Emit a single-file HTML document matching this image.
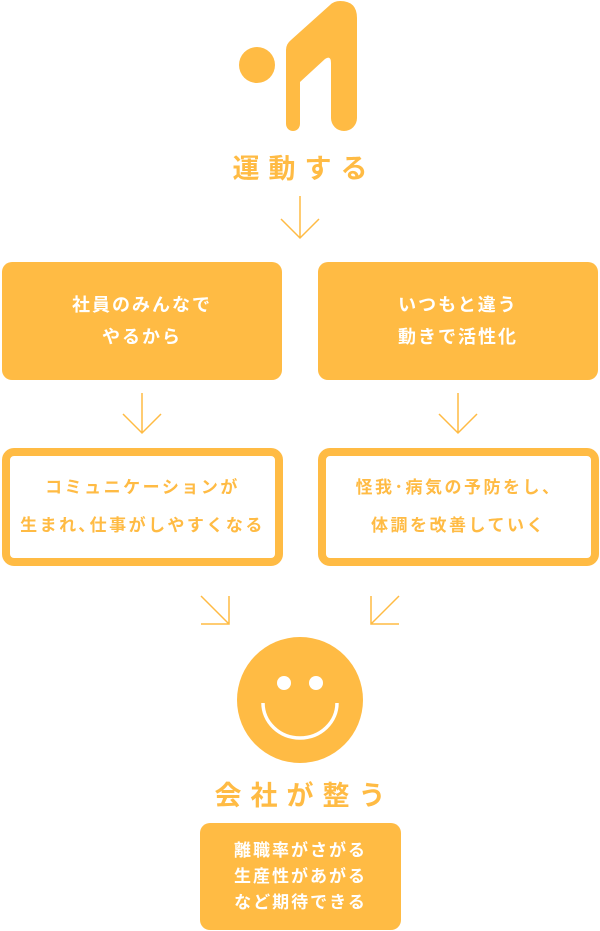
<!DOCTYPE html>
<html><head><meta charset="utf-8"><style>
body{margin:0;width:600px;height:931px;background:#fff;position:relative;overflow:hidden;font-family:"Liberation Sans","Noto Sans CJK JP",sans-serif;font-weight:bold;color:#FFBB44}
.a{position:absolute}
.box{position:absolute;background:#FFBB44;border-radius:10px;color:#fff;font-size:18px;letter-spacing:2px;text-align:center;line-height:32px;display:flex;align-items:center;justify-content:center}
.ob{position:absolute;border:8px solid #FFBB44;border-radius:12px;box-sizing:border-box;color:#FFBB44;font-size:17px;letter-spacing:2.5px;text-align:center;line-height:38px;display:flex;align-items:center;justify-content:center}
.t{position:absolute;width:600px;text-align:center;font-size:27px;letter-spacing:9px;text-indent:9px}
</style></head><body>
<svg class="a" style="left:0;top:0" width="600" height="931">
<circle cx="257" cy="65" r="18" fill="#FFBB44"/>
<path d="M293,131 a7,7 0 0 1 -7,-7 L286,50 Q286,44 291,40 L330,5 Q334,1 340,1 Q357,1 357,18 L357,118 a13,13 0 0 1 -26,0 L331,63 Q331,55 325,59 L300,82 L300,124 a7,7 0 0 1 -7,7 Z" fill="#FFBB44"/>
<g stroke="#FFBB44" stroke-width="1.5" fill="none">
<path d="M300,196 V238 M281,219 L300,238 L319,219"/>
<path d="M142,393 V433 M123,414 L142,433 L161,414"/>
<path d="M458,393 V433 M439,414 L458,433 L477,414"/>
<path d="M201,596 L229,624 M229,596 V624 H201"/>
<path d="M399,596 L371,624 M371,596 V624 H399"/>
</g>
<circle cx="300" cy="700" r="63" fill="#FFBB44"/>
<circle cx="284" cy="683" r="7" fill="#fff"/>
<circle cx="316" cy="683" r="7" fill="#fff"/>
<path d="M263,703 A37,35 0 0 0 337,703" stroke="#fff" stroke-width="3.5" fill="none"/>
</svg>
<div class="t" style="top:147px">運動する</div>
<div class="box" style="left:2px;top:262px;width:280px;height:118px">社員のみんなで<br>やるから</div>
<div class="box" style="left:318px;top:262px;width:280px;height:118px">いつもと違う<br>動きで活性化</div>
<div class="ob" style="left:2px;top:448px;width:281px;height:118px">コミュニケーションが<br>生まれ､仕事がしやすくなる</div>
<div class="ob" style="left:318px;top:448px;width:281px;height:118px">怪我･病気の予防をし、<br>体調を改善していく</div>
<div class="t" style="top:774px">会社が整う</div>
<div class="box" style="left:200px;top:823px;width:201px;height:107px;font-size:17px;line-height:26px">離職率がさがる<br>生産性があがる<br>など期待できる</div>
</body></html>
